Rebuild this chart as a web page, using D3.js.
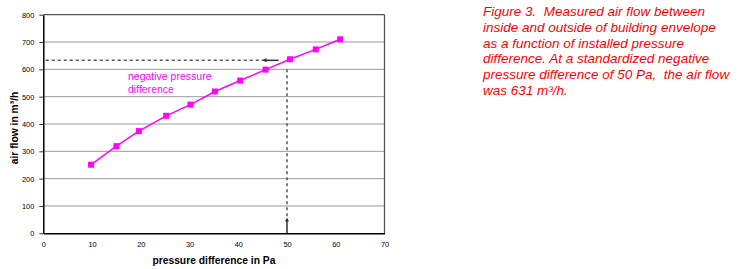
<!DOCTYPE html>
<html><head><meta charset="utf-8">
<script src="https://cdn.jsdelivr.net/npm/d3@7"></script>
<style>body{margin:0;background:#fff;}svg{display:block;}</style>
</head><body>
<svg id="c" width="742" height="269"></svg>
<script>
const pressure = [9.8, 15, 19.6, 25.2, 30.2, 35.2, 40.4, 45.6, 50.6, 55.9, 60.9];
const airflow = [251, 319, 374, 430, 471, 519, 559, 599, 637, 673, 710];
const xTicks = [0, 10, 20, 30, 40, 50, 60, 70];
const yTicks = [0, 100, 200, 300, 400, 500, 600, 700, 800];
const refPressure = 50;
const refFlow = 633;
const captionLines = [
  "Figure 3.  Measured air flow between",
  "inside and outside of building envelope",
  "as a function of installed pressure",
  "difference. At a standardized negative",
  "pressure difference of 50 Pa,  the air flow",
  "was 631 m³/h."
];

const svg = d3.select("#c");
const x = d3.scaleLinear().domain([0, 70]).range([43.3, 384.5]);
const y = d3.scaleLinear().domain([0, 800]).range([233.3, 14.7]);
const FONT = "Arial, 'Liberation Sans', sans-serif";

// gridlines
svg.append("g").selectAll("line").data(yTicks.filter(d => d > 0 && d < 800)).join("line")
  .attr("x1", x(0)).attr("x2", x(70)).attr("y1", d => y(d)).attr("y2", d => y(d))
  .attr("stroke", "#9a9a9a").attr("stroke-width", 1);

// frame top & right
svg.append("line").attr("x1", x(0)).attr("x2", x(70)).attr("y1", y(800)).attr("y2", y(800)).attr("stroke", "#555").attr("stroke-width", 1.3);
svg.append("line").attr("x1", x(70)).attr("x2", x(70)).attr("y1", y(800)).attr("y2", y(0)).attr("stroke", "#555").attr("stroke-width", 1.3);

// axes
const yAxis = svg.append("g").attr("transform", `translate(${x(0)},0)`)
  .call(d3.axisLeft(y).tickValues(yTicks).tickSize(4).tickPadding(5).tickSizeOuter(0));
const xAxis = svg.append("g").attr("transform", `translate(0,${y(0)})`)
  .call(d3.axisBottom(x).tickValues(xTicks).tickSize(0).tickPadding(8).tickSizeOuter(0));
[yAxis, xAxis].forEach(g => {
  g.select(".domain").attr("stroke", "#000").attr("stroke-width", 1.5);
  g.selectAll(".tick line").attr("stroke", "#333");
  g.selectAll("text").attr("font-family", FONT).attr("font-size", 7.4).attr("fill", "#000");
});

// reference dashed lines
svg.append("line").attr("x1", x(0.5)).attr("x2", x(45.3)).attr("y1", y(refFlow)).attr("y2", y(refFlow))
  .attr("stroke", "#555").attr("stroke-width", 1.5).attr("stroke-dasharray", "3,3");
svg.append("line").attr("x1", x(45.3)).attr("x2", x(48.3)).attr("y1", y(refFlow)).attr("y2", y(refFlow))
  .attr("stroke", "#333").attr("stroke-width", 1.5);
svg.append("path").attr("d", `M${x(45.0)},${y(refFlow)} l4,-2 l0,4 z`).attr("fill", "#333");

svg.append("line").attr("x1", x(refPressure)).attr("x2", x(refPressure)).attr("y1", y(600)).attr("y2", y(55))
  .attr("stroke", "#555").attr("stroke-width", 1.5).attr("stroke-dasharray", "3,3");
svg.append("line").attr("x1", x(refPressure)).attr("x2", x(refPressure)).attr("y1", y(0)).attr("y2", y(50))
  .attr("stroke", "#333").attr("stroke-width", 1.5);
svg.append("path").attr("d", `M${x(refPressure)},${y(58)} l-2,4 l4,0 z`).attr("fill", "#333");

// series
const pts = pressure.map((p, i) => [p, airflow[i]]);
svg.append("path").datum(pts)
  .attr("d", d3.line().x(d => x(d[0])).y(d => y(d[1])))
  .attr("fill", "none").attr("stroke", "#ff00ff").attr("stroke-width", 1.5);
svg.append("g").selectAll("rect").data(pts).join("rect")
  .attr("x", d => x(d[0]) - 3).attr("y", d => y(d[1]) - 3).attr("width", 6).attr("height", 6)
  .attr("fill", "#ff00ff");

// annotation
const ann = svg.append("text").attr("font-family", FONT).attr("font-size", 10.5).attr("fill", "#ff00ff");
ann.append("tspan").attr("x", 128).attr("y", 80).text("negative pressure");
ann.append("tspan").attr("x", 128).attr("y", 93).text("difference");

// axis titles
svg.append("text").attr("x", x(35)).attr("y", 264).attr("text-anchor", "middle")
  .attr("font-family", FONT).attr("font-size", 10.3).attr("font-weight", "bold")
  .text("pressure difference in Pa");
svg.append("text").attr("transform", `translate(18,128) rotate(-90)`).attr("text-anchor", "middle")
  .attr("font-family", FONT).attr("font-size", 10.3).attr("font-weight", "bold")
  .text("air flow in m³/h");

// caption
const cap = svg.append("text").attr("font-family", FONT).attr("font-size", 13.5)
  .attr("font-style", "italic").attr("fill", "#ff0000");
captionLines.forEach((t, i) => cap.append("tspan").attr("x", 483).attr("y", 16 + i * 15.8).attr("xml:space", "preserve").text(t));
</script>
</body></html>
